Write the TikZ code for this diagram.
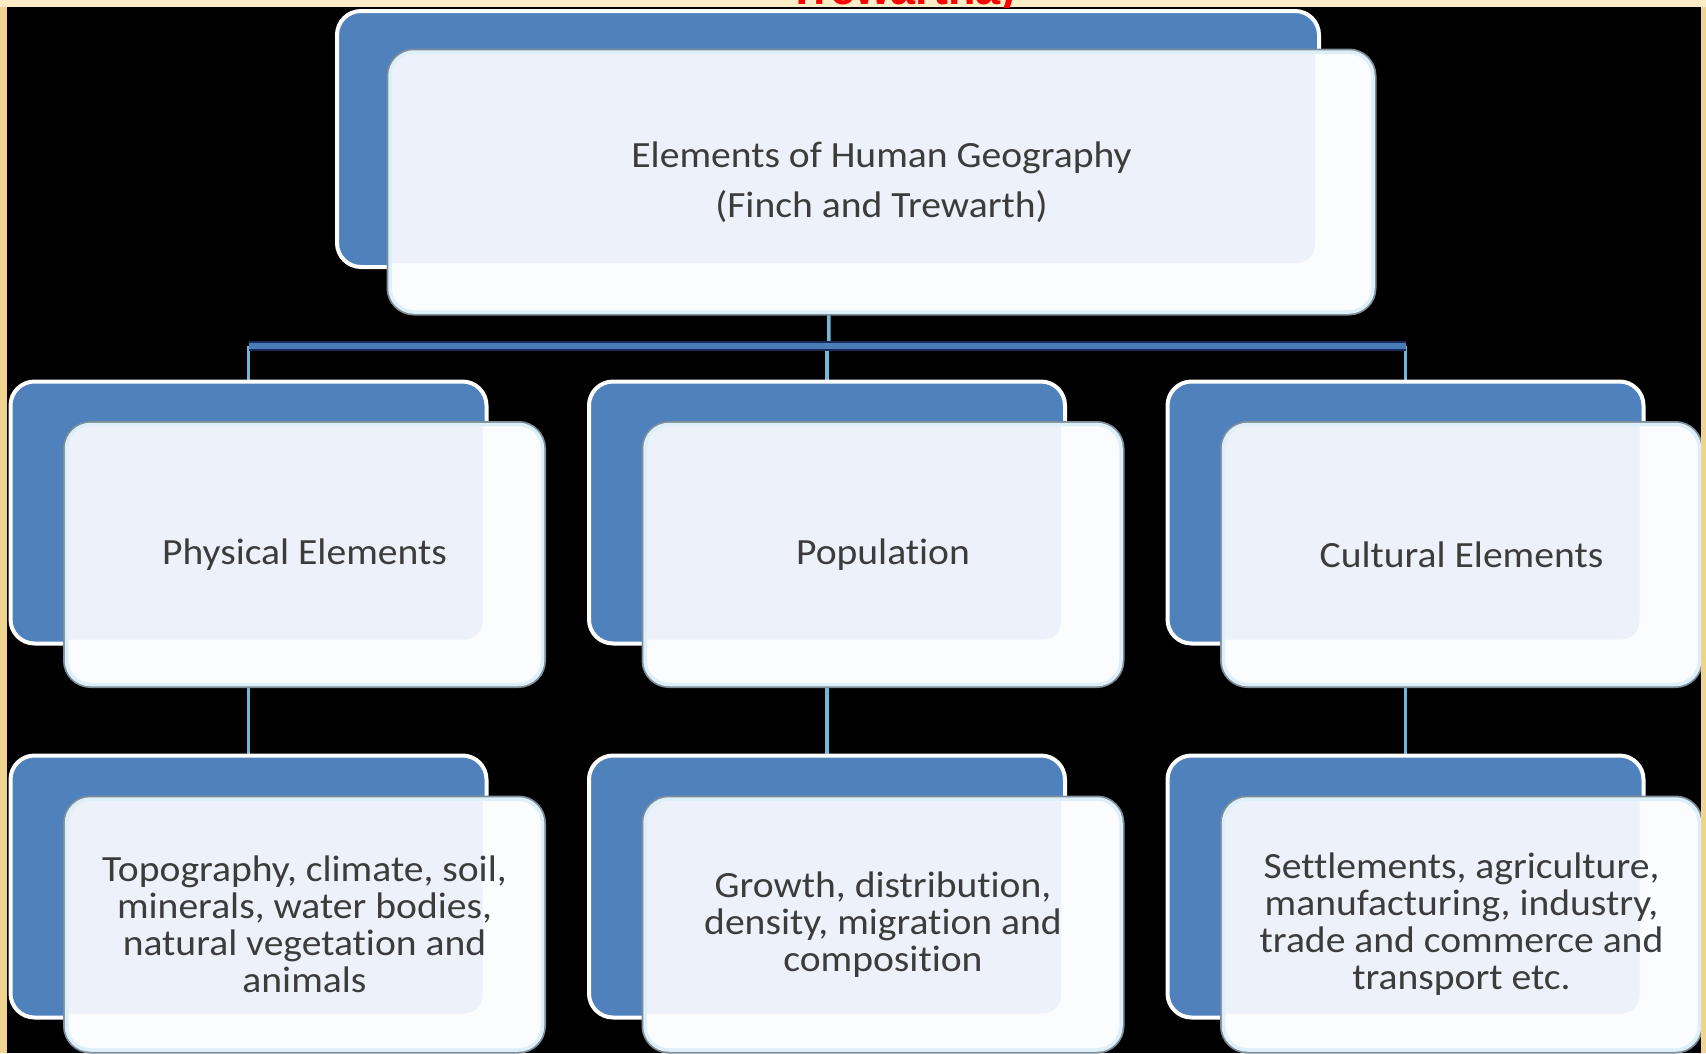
\documentclass[tikz,border=0pt]{standalone}
\usepackage{fontspec}
\setmainfont[Ligatures=NoCommon,FakeStretch=1.07]{Carlito}
\newfontfamily\titlefont{Liberation Sans}
\usetikzlibrary{calc}
\pgfdeclarelayer{background}
\pgfsetlayers{background,main}
\definecolor{boxblue}{HTML}{4F81BD}
\definecolor{frontfill}{HTML}{FAFCFE}
\definecolor{tintfill}{HTML}{EDF1F9}
\definecolor{edgelight}{HTML}{DDEFF8}
\definecolor{edgegray}{HTML}{7F8C99}
\definecolor{txtgray}{HTML}{3C3C3C}
\definecolor{barblue}{HTML}{4A7DB5}
\definecolor{barnavy}{HTML}{1A2A5A}
\definecolor{linecyan}{HTML}{6FB8D8}
\definecolor{goldL}{HTML}{EFD38F}
\definecolor{goldT}{HTML}{FCEDC6}
\begin{document}
\begin{tikzpicture}[x=1pt,y=-1pt,
 backbox/.style={rectangle, rounded corners=24pt, fill=boxblue, draw=white, line width=4pt,
   inner sep=0pt, minimum width=476pt, minimum height=262pt},
 frontbox/.style={rectangle, rounded corners=24pt, fill=frontfill, draw=edgelight, line width=3.5pt,
   preaction={draw=edgegray, line width=7pt}, inner sep=0pt, minimum width=476pt, minimum height=260pt,
   text=txtgray, align=center, font=\fontsize{37}{37}\selectfont,
   path picture={\fill[tintfill, rounded corners=18pt] ($(#1.south west)+(6,-6)$) rectangle ($(#1.north east)+(-6,6)$);}},
 vline/.style={draw=linecyan, line width=3.5pt},
 hbar/.style={draw=barblue, line width=6pt, preaction={draw=barnavy, line width=10pt}},
]
\useasboundingbox (0,0) rectangle (1706,1053);

% top
\node[backbox, minimum width=982pt, minimum height=256pt] (topB) at (828,139) {};
\node[frontbox=topB, minimum width=983pt, minimum height=260pt, font=\fontsize{37}{50}\selectfont] (top) at (881.5,182)
  {Elements of Human Geography\\(Finch and Trewarth)};

% level 2
\node[backbox] (physB) at (248.5,512.5) {};
\node[frontbox=physB] (phys) at (304.5,554.5) {Physical Elements};
\node[backbox] (popB) at (827,512.5) {};
\node[frontbox=popB] (pop) at (883,554.5) {Population};
\node[backbox] (culB) at (1405.5,512.5) {};
\node[frontbox=culB] (cul) at (1461.5,554.5) {Cultural Elements};

% level 3
\node[backbox] (physDB) at (248.5,886.5) {};
\node[frontbox=physDB, minimum height=251pt] (physD) at (304.5,924.5)
  {Topography, climate, soil,\\minerals, water bodies,\\natural vegetation and\\animals};
\node[backbox] (popDB) at (827,886.5) {};
\node[frontbox=popDB, minimum height=251pt] (popD) at (883,924.5)
  {Growth, distribution,\\density, migration and\\composition};
\node[backbox] (culDB) at (1405.5,886.5) {};
\node[frontbox=culDB, minimum height=251pt] (culD) at (1461.5,924.5)
  {Settlements, agriculture,\\manufacturing, industry,\\trade and commerce and\\transport etc.};

\coordinate (bj) at (829,346);

\begin{pgfonlayer}{background}
  \fill[black] (0,0) rectangle (1706,1053);
  \draw[vline] (topB.center) -- (bj);
  \draw[vline] (physB.center |- bj) -- (physB.center);
  \draw[vline] (popB.center |- bj) -- (popB.center);
  \draw[vline] (culB.center |- bj) -- (culB.center);
  \draw[hbar] (physB.center |- bj) -- (culB.center |- bj);
  \draw[vline] (physB.center) -- (physDB.center);
  \draw[vline] (popB.center) -- (popDB.center);
  \draw[vline] (culB.center) -- (culDB.center);
\end{pgfonlayer}

% frame
\fill[goldL] (0,0) rectangle (7,1053);
\fill[goldL] (1701,0) rectangle (1706,1053);
\fill[goldT] (0,0) rectangle (1706,7);
\begin{scope}
  \clip (0,0) rectangle (1706,7);
  \node[anchor=base, text=red, inner sep=0pt, font=\titlefont\bfseries\fontsize{45}{45}\selectfont] (ttl) at (902,4.5) {Trewartha)};
\end{scope}
\end{tikzpicture}
\end{document}
